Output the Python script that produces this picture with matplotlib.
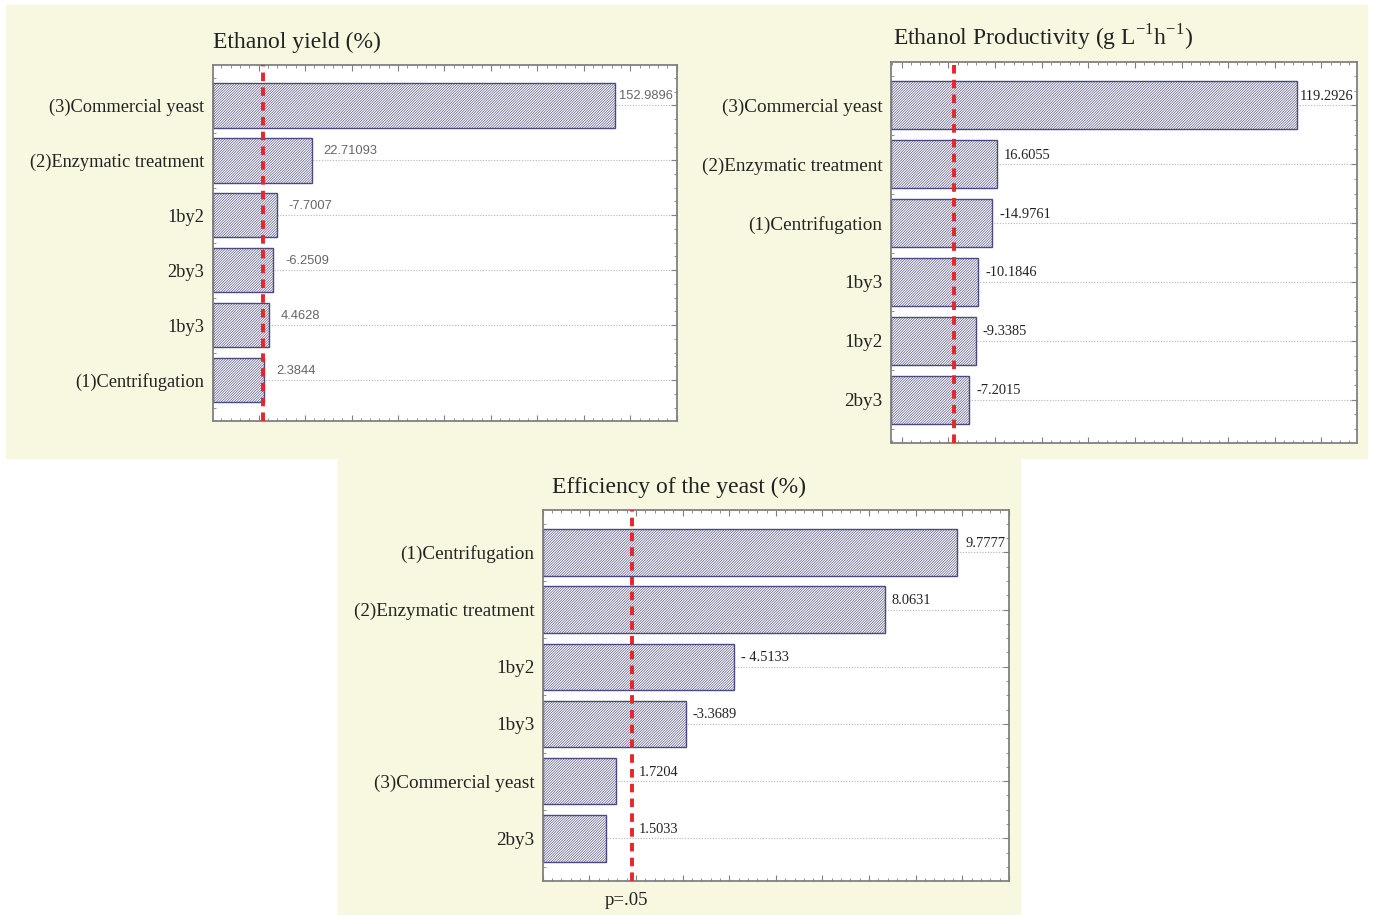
import numpy as np
import matplotlib
matplotlib.use("Agg")
import matplotlib.pyplot as plt
from matplotlib.patches import Rectangle
from matplotlib.ticker import MultipleLocator

plt.rcParams["font.family"] = ["Liberation Serif", "DejaVu Serif"]
plt.rcParams["mathtext.fontset"] = "custom"
plt.rcParams["mathtext.rm"] = "Liberation Serif"
plt.rcParams["hatch.linewidth"] = 0.45

# Standardized effect estimates (absolute value drawn), one chart per response
yield_terms = ["(3)Commercial yeast", "(2)Enzymatic treatment", "1by2", "2by3", "1by3", "(1)Centrifugation"]
yield_effects = [152.9896, 22.71093, -7.7007, -6.2509, 4.4628, 2.3844]
yield_labels = ["152.9896", "22.71093", "-7.7007", "-6.2509", "4.4628", "2.3844"]

prod_terms = ["(3)Commercial yeast", "(2)Enzymatic treatment", "(1)Centrifugation", "1by3", "1by2", "2by3"]
prod_effects = [119.2926, 16.6055, -14.9761, -10.1846, -9.3385, -7.2015]
prod_labels = ["119.2926", "16.6055", "-14.9761", "-10.1846", "-9.3385", "-7.2015"]

eff_terms = ["(1)Centrifugation", "(2)Enzymatic treatment", "1by2", "1by3", "(3)Commercial yeast", "2by3"]
eff_effects = [9.7777, 8.0631, -4.5133, -3.3689, 1.7204, 1.5033]
eff_labels = ["9.7777", "8.0631", "- 4.5133", "-3.3689", "1.7204", "1.5033"]

# critical t value for p = .05 in each chart
t_crit = [1.98, 1.98, 2.10]

BEIGE = "#f8f7e0"
BAR_EDGE = "#4a4a80"
FRAME = "#808080"


def pareto(ax, terms, effects, labels, tcrit, xlim, title, title_x,
           label_font, label_color, label_size, label_dx, cat_size):
    n = len(terms)
    y = np.arange(n)
    mag = np.abs(effects)
    x0 = xlim[0]

    ax.set_facecolor("white")
    ax.set_xlim(*xlim)
    ax.set_ylim(n - 1 + 0.74, -0.74)

    for yy in y:
        ax.axhline(yy, color="#b5b5b5", lw=0.8, ls=(0, (1, 1.5)), zorder=0)

    ax.barh(y, mag - x0, left=x0, height=0.81, color="white",
            edgecolor=BAR_EDGE, hatch="/" * 13, linewidth=1.0, zorder=2)

    ax.axvline(tcrit, color="#e5262b", lw=2.8, ls=(0, (2.2, 1.6)), zorder=3)

    for yy, v, lab in zip(y, mag, labels):
        if v == mag.max():
            ax.annotate(lab, xy=(1, yy), xycoords=ax.get_yaxis_transform(),
                        xytext=(-4, 9), textcoords="offset pixels",
                        ha="right", va="center", fontsize=label_size,
                        family=label_font, color=label_color, zorder=4)
        else:
            ax.annotate(lab, xy=(max(v, tcrit), yy), xytext=(label_dx, 9),
                        textcoords="offset pixels", ha="left", va="center",
                        fontsize=label_size, family=label_font,
                        color=label_color, zorder=4)

    ax.set_yticks(y)
    ax.set_yticklabels(terms, fontsize=cat_size, color="#222222")
    ax.yaxis.set_minor_locator(MultipleLocator(0.25))
    span = xlim[1] - xlim[0]
    ax.xaxis.set_major_locator(MultipleLocator(span / 10))
    ax.xaxis.set_minor_locator(MultipleLocator(span / 50))
    ax.tick_params(axis="both", which="both", direction="in", colors=FRAME,
                   top=True, right=True, labelbottom=False)
    ax.tick_params(axis="both", which="major", length=4, width=0.8)
    ax.tick_params(axis="both", which="minor", length=2, width=0.6)
    ax.tick_params(axis="y", which="major", pad=6, labelcolor="#222222")
    for s in ax.spines.values():
        s.set_color(FRAME)
        s.set_linewidth(1.3)

    ax.set_title(title, loc="left", x=title_x, pad=12, fontsize=17,
                 color="#222222")


fig = plt.figure(figsize=(13.73, 9.15), dpi=100)
W, H = 1373, 915

# beige panels behind the charts
fig.patches.append(Rectangle((6 / W, 1 - 458 / H), (1367 - 6) / W, (458 - 5) / H,
                             transform=fig.transFigure, color=BEIGE, zorder=-1))
fig.patches.append(Rectangle((338 / W, 0), (1020 - 338) / W, 1 - 458 / H + 0.001,
                             transform=fig.transFigure, color=BEIGE, zorder=-1))

ax1 = fig.add_axes([212.7 / W, 1 - 420.7 / H, 464.6 / W, 356 / H])
ax2 = fig.add_axes([890.7 / W, 1 - 443.3 / H, 466.6 / W, 381.6 / H])
ax3 = fig.add_axes([542.7 / W, 1 - 880.7 / H, 466.3 / W, 370.7 / H])

pareto(ax1, yield_terms, yield_effects, yield_labels, t_crit[0], (-19.7, 179.7),
       "Ethanol yield (%)", 0.0, ["Liberation Sans", "DejaVu Sans"], "#666666",
       9.3, 12, 13.2)
pareto(ax2, prod_terms, prod_effects, prod_labels, t_crit[1], (-19.65, 139.8),
       r"Ethanol Productivity (g L$^{\mathregular{-1}}$h$^{\mathregular{-1}}$)", 0.004,
       ["Liberation Serif", "DejaVu Serif"], "#222222", 10.4, 7, 13.8)
pareto(ax3, eff_terms, eff_effects, eff_labels, t_crit[2], (0, 11.0),
       "Efficiency of the yeast (%)", 0.02,
       ["Liberation Serif", "DejaVu Serif"], "#222222", 10.4, 7, 13.8)

ax3.annotate("p=.05", xy=(t_crit[2], 0), xycoords=ax3.get_xaxis_transform(),
             xytext=(-5, -20), textcoords="offset pixels", ha="center",
             va="center", fontsize=13.5, color="#222222")

fig.savefig("out.png", dpi=100)
